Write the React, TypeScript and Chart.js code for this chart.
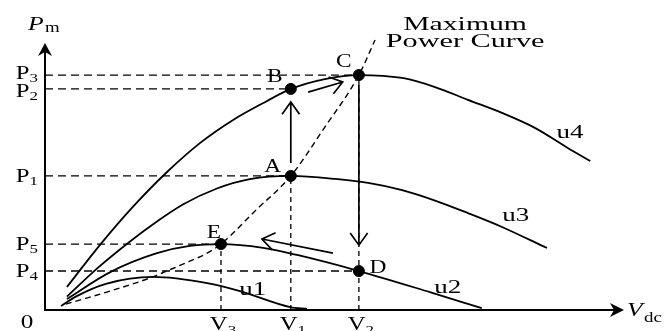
import React, { useEffect, useRef } from "react";
import { Chart, registerables } from "chart.js";

Chart.register(...registerables);

// ---- Data (V_dc on x, P_m on y, arbitrary units 0..100) ----
const curveU4: [number, number][] = [
  [3.8, 8.6], [9.5, 24.3], [15.3, 38.8], [21.1, 51.6], [26.9, 62.6], [32.6, 71.2],
  [38.5, 78.3], [42.6, 82.8], [48.5, 86.5], [54.4, 88.0], [61.9, 86.9], [67.6, 83.5],
  [73.3, 78.7], [79.2, 73.8], [84.9, 68.2], [90.6, 60.7], [94.5, 55.8],
];
const curveU3: [number, number][] = [
  [3.8, 5.0], [9.0, 15.5], [14.4, 25.1], [18.2, 31.3], [23.9, 39.5], [29.8, 45.5],
  [35.5, 49.0], [42.6, 50.2], [50.3, 49.1], [56.0, 47.6], [61.9, 44.9], [67.6, 41.0],
  [73.3, 36.3], [79.2, 31.1], [87.0, 23.2],
];
const curveU2: [number, number][] = [
  [3.8, 4.1], [11.3, 14.2], [19.4, 21.3], [25.1, 24.0], [30.5, 24.7], [37.8, 23.3],
  [43.7, 20.6], [54.4, 14.6], [66.7, 6.7], [75.7, 0.7],
];
const curveU1: [number, number][] = [
  [2.8, 1.5], [5.5, 5.2], [10.7, 9.9], [18.7, 12.4], [28.1, 10.1], [33.8, 7.1],
  [42.5, 1.1], [45.4, 0.4],
];
const maxPowerCurve: [number, number][] = [
  [3.6, 2.2], [10.7, 6.7], [18.2, 12.0], [21.1, 14.6], [25.0, 18.2], [28.1, 21.3],
  [30.5, 24.7], [36.6, 37.5], [42.6, 50.2], [48.5, 68.5], [54.4, 88.0], [57.2, 101.1],
];
const curveNames = ["u1", "u2", "u3", "u4"];

// operating points
const pointNames = ["A", "B", "C", "D", "E"];
const pointV = [42.6, 42.6, 54.4, 54.4, 30.5];
const pointP = [50.2, 82.8, 88.0, 14.6, 24.7];

// tick levels
const powerTickLabels = ["3", "2", "1", "5", "4"]; // P subscripts
const powerTickPoint = ["C", "B", "A", "E", "D"];
const voltageTickLabels = ["3", "1", "2"]; // V subscripts
const voltageTickPoint = ["E", "A", "C"];

// transition arrows: [fromV, fromP, toV, toP]
const transitions: [number, number, number, number][] = [
  [42.6, 55.1, 42.6, 77.9], // A -> B
  [45.6, 81.6, 51.6, 85.4], // B -> C
  [54.4, 84.3, 54.4, 24.3], // C -> D
  [49.9, 21.3, 37.6, 26.6], // D -> E
];

const FONT = '"Liberation Serif", "Times New Roman", serif';

function drawLabel(
  ctx: CanvasRenderingContext2D,
  main: string,
  sub: string,
  x: number,
  y: number,
  o: { align?: string; size?: number; subSize?: number; italic?: boolean; sx?: number; subDy?: number } = {}
) {
  const sx = o.sx ?? 1.4;
  const mainFont = `${o.italic ? "italic " : ""}${o.size ?? 18}px ${FONT}`;
  const subFont = `${o.subSize ?? 13}px ${FONT}`;
  ctx.font = mainFont;
  const wm = ctx.measureText(main).width;
  ctx.font = subFont;
  const ws = sub ? ctx.measureText(sub).width : 0;
  const total = (wm + ws) * sx;
  const align = o.align ?? "center";
  const left = align === "center" ? x - total / 2 : align === "right" ? x - total : x;
  ctx.save();
  ctx.translate(left, y);
  ctx.scale(sx, 1);
  ctx.textAlign = "left";
  ctx.textBaseline = "alphabetic";
  ctx.fillStyle = "#000";
  ctx.font = mainFont;
  ctx.fillText(main, 0, 0);
  if (sub) {
    ctx.font = subFont;
    ctx.fillText(sub, wm + (o.italic ? 1 : 0), o.subDy ?? 4);
  }
  ctx.restore();
}

function openArrow(ctx: CanvasRenderingContext2D, x1: number, y1: number, x2: number, y2: number, len = 15, ang = 0.62) {
  const a = Math.atan2(y2 - y1, x2 - x1);
  ctx.beginPath();
  ctx.moveTo(x1, y1);
  ctx.lineTo(x2, y2);
  ctx.moveTo(x2 - len * Math.cos(a - ang), y2 - len * Math.sin(a - ang));
  ctx.lineTo(x2, y2);
  ctx.lineTo(x2 - len * Math.cos(a + ang), y2 - len * Math.sin(a + ang));
  ctx.stroke();
}

const overlay = {
  id: "overlay",
  afterDatasetsDraw(chart: any) {
    const ctx: CanvasRenderingContext2D = chart.ctx;
    const xs = chart.scales.x;
    const ys = chart.scales.y;
    const px = (v: number) => xs.getPixelForValue(v);
    const py = (v: number) => ys.getPixelForValue(v);
    ctx.save();
    ctx.strokeStyle = "#000";
    ctx.fillStyle = "#000";
    ctx.setLineDash([]);

    // axes
    const ox = px(0), oy = py(0), top = py(100), right = px(100);
    ctx.lineWidth = 2;
    ctx.beginPath();
    ctx.moveTo(ox, oy);
    ctx.lineTo(ox, top + 6);
    ctx.moveTo(ox - 1, oy);
    ctx.lineTo(right - 6, oy);
    ctx.stroke();
    ctx.beginPath();
    ctx.moveTo(ox, top);
    ctx.lineTo(ox - 7, top + 13);
    ctx.lineTo(ox, top + 9);
    ctx.lineTo(ox + 7, top + 13);
    ctx.closePath();
    ctx.fill();
    ctx.beginPath();
    ctx.moveTo(right + 2, oy);
    ctx.lineTo(right - 12, oy - 7);
    ctx.lineTo(right - 8, oy);
    ctx.lineTo(right - 12, oy + 7);
    ctx.closePath();
    ctx.fill();

    // arrows
    ctx.lineWidth = 1.7;
    transitions.forEach(([a, b, c, d]) => openArrow(ctx, px(a), py(b), px(c), py(d)));

    // axis titles
    drawLabel(ctx, "P", "m", 28, 30, { align: "left", italic: true, size: 19, subSize: 14, sx: 1.35, subDy: 2 });
    drawLabel(ctx, "V", "dc", right + 5, oy + 6, { align: "left", italic: true, size: 19, subSize: 14, sx: 1.35, subDy: 6 });
    drawLabel(ctx, "0", "", 27, 328, { size: 18 });

    // P tick labels
    const pAdj = [-2, 2, 0, 0, 0];
    powerTickLabels.forEach((s, i) => {
      const k = pointNames.indexOf(powerTickPoint[i]);
      drawLabel(ctx, "P", s, 38, py(pointP[k]) + 6 + pAdj[i], { align: "right", size: 19, subSize: 13, sx: 1.3, subDy: 3 });
    });
    // V tick labels
    voltageTickLabels.forEach((s, i) => {
      const k = pointNames.indexOf(voltageTickPoint[i]);
      drawLabel(ctx, "V", s, px(pointV[k]) + 2, 330, { size: 19, subSize: 13, sx: 1.3, subDy: 4 });
    });

    // point labels
    const off: Record<string, [number, number]> = {
      A: [-18, -4], B: [-16, -7], C: [-15, -8], D: [19, 2], E: [-7, -6],
    };
    pointNames.forEach((n, i) => {
      const [dx, dy] = off[n];
      drawLabel(ctx, n, "", px(pointV[i]) + dx, py(pointP[i]) + dy, { size: 18, sx: 1.3 });
    });

    // curve labels
    const curvePos: [number, number][] = [[36.0, 5.5], [69.8, 6.5], [81.6, 33.2], [91.0, 64.6]];
    curveNames.forEach((n, i) => {
      drawLabel(ctx, n, "", px(curvePos[i][0]), py(curvePos[i][1]), { size: 18, sx: 1.5 });
    });

    // max power curve caption
    drawLabel(ctx, "Maximum", "", px(72.8), 30, { size: 18, sx: 1.65 });
    drawLabel(ctx, "Power Curve", "", px(72.8), 47, { size: 18, sx: 1.68 });

    ctx.restore();
  },
};

export default function App() {
  const ref = useRef<HTMLCanvasElement | null>(null);
  useEffect(() => {
    if (!ref.current) return;
    const toXY = (arr: [number, number][]) => arr.map(([x, y]) => ({ x, y }));
    const solid = (data: [number, number][]) => ({
      data: toXY(data),
      showLine: true,
      borderColor: "#000",
      borderWidth: 1.8,
      pointRadius: 0,
      cubicInterpolationMode: "monotone" as const,
      clip: false as any,
    });
    const dashed = (data: [number, number][], dash: number[], w = 1.3) => ({
      data: toXY(data),
      showLine: true,
      borderColor: "#000",
      borderWidth: w,
      borderDash: dash,
      pointRadius: 0,
      tension: 0,
      clip: false as any,
    });
    const hLines = powerTickPoint.map((n) => {
      const k = pointNames.indexOf(n);
      return dashed([[0, pointP[k]], [pointV[k], pointP[k]]], [8, 5]);
    });
    const vLines = voltageTickPoint.map((n) => {
      const k = pointNames.indexOf(n);
      return dashed([[pointV[k], 0], [pointV[k], pointP[k]]], [5, 4]);
    });
    const mpc = { ...dashed(maxPowerCurve, [6, 4], 1.4), cubicInterpolationMode: "monotone" as const };
    const chart = new Chart(ref.current, {
      type: "scatter",
      data: {
        datasets: [
          ...hLines,
          ...vLines,
          mpc,
          solid(curveU1),
          solid(curveU2),
          solid(curveU3),
          solid(curveU4),
          {
            data: pointV.map((v, i) => ({ x: v, y: pointP[i] })),
            pointRadius: 5.5,
            pointBackgroundColor: "#000",
            pointBorderColor: "#000",
            showLine: false,
            clip: false as any,
          },
        ] as any,
      },
      options: {
        animation: false,
        responsive: false,
        devicePixelRatio: 1,
        layout: { padding: { left: 45, right: 49, top: 43, bottom: 21 } },
        scales: {
          x: { type: "linear", min: 0, max: 100, display: false },
          y: { type: "linear", min: 0, max: 100, display: false },
        },
        plugins: { legend: { display: false }, tooltip: { enabled: false } },
      },
      plugins: [overlay],
    });
    return () => chart.destroy();
  }, []);
  return (
    <div style={{ position: "fixed", left: 0, top: 0, width: 671, height: 331, background: "#fff" }}>
      <canvas ref={ref} width={671} height={331} />
    </div>
  );
}
